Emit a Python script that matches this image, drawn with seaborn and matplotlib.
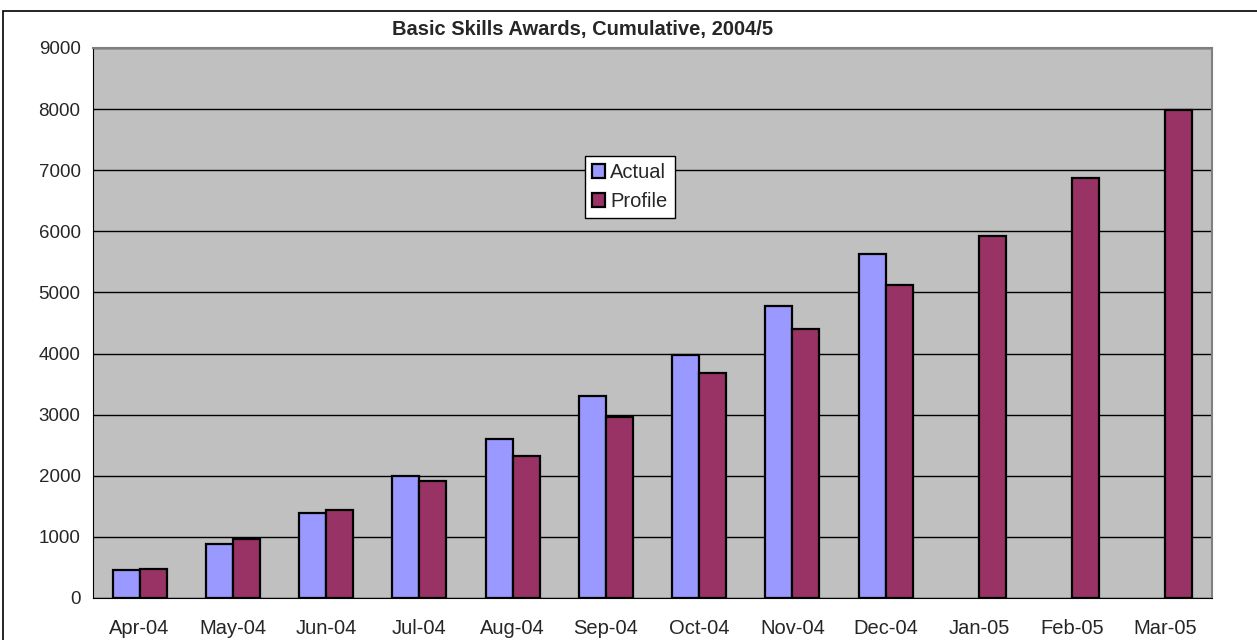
import numpy as np
import pandas as pd
import matplotlib
matplotlib.use("Agg")
import matplotlib.pyplot as plt
import seaborn as sns
from matplotlib.patches import Rectangle

months = ["Apr-04", "May-04", "Jun-04", "Jul-04", "Aug-04", "Sep-04",
          "Oct-04", "Nov-04", "Dec-04", "Jan-05", "Feb-05", "Mar-05"]
actual = [460, 880, 1390, 1990, 2600, 3300, 3980, 4780, 5630, np.nan, np.nan, np.nan]
profile = [480, 960, 1440, 1920, 2320, 2970, 3680, 4400, 5130, 5920, 6870, 7990]
series = ["Actual", "Profile"]
colours = ["#9999FF", "#993366"]
yticks = [0, 1000, 2000, 3000, 4000, 5000, 6000, 7000, 8000, 9000]

df = pd.DataFrame({"month": months * 2,
                   "value": actual + profile,
                   "series": ["Actual"] * len(months) + ["Profile"] * len(months)})

sns.set_style("white")
plt.rcParams['font.family'] = ['Liberation Sans', 'DejaVu Sans']

fig = plt.figure(figsize=(12.57, 6.4), dpi=100)
ax = fig.add_axes([93 / 1257, 1 - 598 / 640, (1212 - 93) / 1257, (598 - 48) / 640])

sns.barplot(data=df, x="month", y="value", hue="series", order=months, hue_order=series,
            palette=colours, width=0.58, edgecolor="black", linewidth=1.6,
            saturation=1, ax=ax, legend=True, zorder=3)

ax.set_facecolor("#C0C0C0")
ax.set_xlim(-0.5, 11.5)
ax.set_ylim(0, 9000)
ax.set_yticks(yticks)
ax.yaxis.grid(True, color="black", linewidth=1.0, zorder=1)
ax.set_axisbelow(True)
ax.set_xlabel("")
ax.set_ylabel("")

# tick marks sit on category boundaries, labels in the middle
ax.set_xticks(np.arange(12))
ax.set_xticklabels(months, fontsize=14.5)
ax.set_xticks(np.arange(-0.5, 12, 1), minor=True)
ax.tick_params(axis="x", which="major", length=0, pad=15)
ax.tick_params(axis="x", which="minor", length=5, width=1, color="black", direction="out")
ax.tick_params(axis="y", length=5, width=1, color="black", direction="out", labelsize=13.5, pad=4)

for side in ["top", "right"]:
    ax.spines[side].set_color("#808080")
    ax.spines[side].set_linewidth(1.5)
ax.spines["left"].set_color("black")
ax.spines["bottom"].set_color("black")

fig.text(583 / 1257, 1 - 29 / 640, "Basic Skills Awards, Cumulative, 2004/5",
         ha="center", va="center", fontsize=14.5, fontweight="bold")

handles, labels = ax.get_legend_handles_labels()
leg = ax.legend(handles, labels, loc="center", bbox_to_anchor=(630 / 1257, 1 - 187 / 640),
                bbox_transform=fig.transFigure, fontsize=14.5, frameon=True, fancybox=False,
                edgecolor="black", framealpha=1, handlelength=0.65, handleheight=0.65,
                handletextpad=0.25, borderpad=0.35, labelspacing=0.5)
leg.get_frame().set_linewidth(1.0)
leg.set_zorder(5)

# outer chart border
fig.patches.append(Rectangle((3 / 1257, -0.1), 1.2, 1 - 11 / 640 + 0.1,
                             transform=fig.transFigure, fill=False,
                             edgecolor="black", linewidth=1.2))

fig.savefig("out.png", dpi=100)
